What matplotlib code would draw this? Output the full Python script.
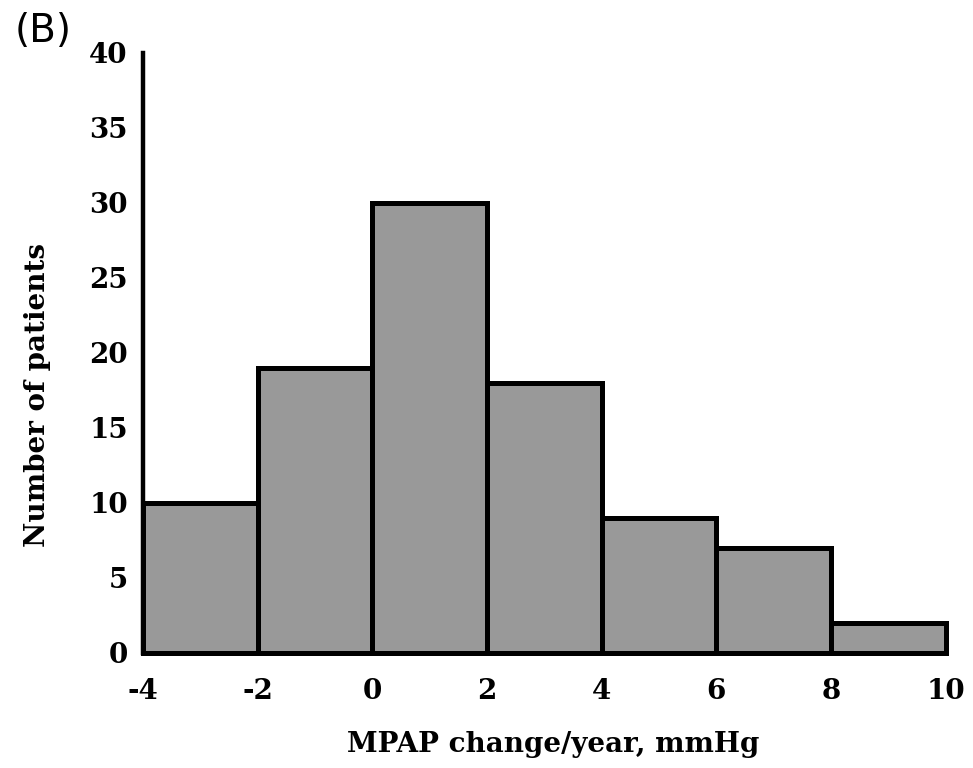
import numpy as np
import matplotlib
matplotlib.use("Agg")
import matplotlib.pyplot as plt

# histogram data
bin_edges = [-4, -2, 0, 2, 4, 6, 8, 10]
counts = [10, 19, 30, 18, 9, 7, 2]
x_ticks = [-4, -2, 0, 2, 4, 6, 8, 10]
x_tick_labels = ["-4", "-2", "0", "2", "4", "6", "8", "10"]
y_ticks = [0, 5, 10, 15, 20, 25, 30, 35, 40]

plt.rcParams['font.family'] = ['DejaVu Serif']
plt.rcParams['font.weight'] = 'bold'

fig = plt.figure(figsize=(9.73, 7.68), dpi=100)
ax = fig.add_axes([0.147, 0.150, 0.825, 0.781])

lefts = np.array(bin_edges[:-1])
widths = np.diff(bin_edges)
bars = ax.bar(lefts, counts, width=widths, align='edge', color='#999999',
              edgecolor='black', linewidth=3.6, zorder=3)
for b in bars:
    b.set_clip_on(False)

ax.set_xlim(-4, 10)
ax.set_ylim(0, 40)
ax.set_xticks(x_ticks)
ax.set_xticklabels(x_tick_labels)
ax.set_yticks(y_ticks)
ax.tick_params(axis='both', length=0, labelsize=20)
ax.tick_params(axis='x', pad=18)
ax.tick_params(axis='y', pad=11)

for s in ['top', 'right', 'bottom']:
    ax.spines[s].set_visible(False)
ax.spines['left'].set_linewidth(3.2)
ax.spines['left'].set_zorder(4)

ax.set_xlabel("MPAP change/year, mmHg", fontsize=20, fontweight='bold')
ax.set_ylabel("Number of patients", fontsize=20, fontweight='bold')
ax.xaxis.set_label_coords(0.511, -0.13)
ax.yaxis.set_label_coords(-0.115, 0.43)

fig.text(0.015, 0.985, "(B)", fontsize=28, family='DejaVu Sans',
         fontweight='normal', ha='left', va='top')

fig.savefig("out.png", dpi=100)
